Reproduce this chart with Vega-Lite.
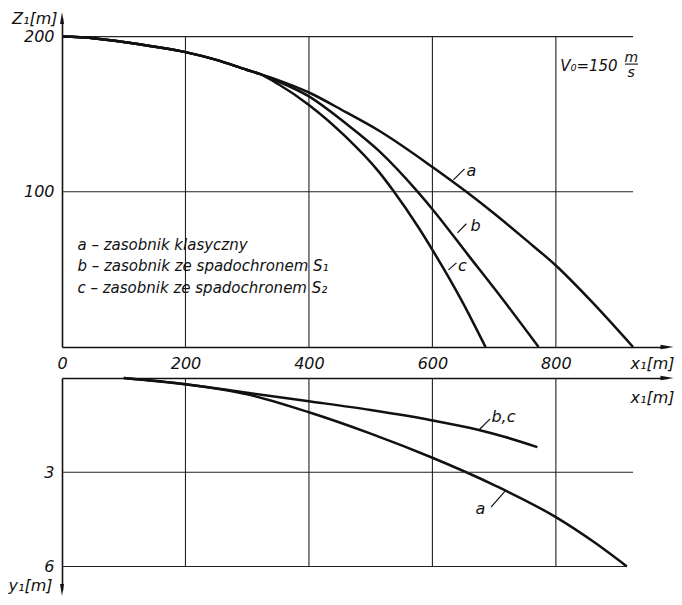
{
  "$schema": "https://vega.github.io/schema/vega-lite/v6.json",
  "padding": {"left": 8, "top": 10, "right": 4, "bottom": 4},
  "spacing": 2,
  "config": {
    "view": {"stroke": null},
    "font": "DejaVu Sans",
    "axis": {
      "grid": false,
      "ticks": false,
      "domainColor": "#111",
      "domainWidth": 1.6,
      "labelColor": "#111",
      "labelFontSize": 16,
      "labelFontStyle": "italic",
      "labelFont": "DejaVu Sans",
      "labelPadding": 8,
      "labelFlush": false,
      "titleColor": "#111",
      "titleFontSize": 16,
      "titleFontStyle": "italic",
      "titleFontWeight": "normal",
      "titleFont": "DejaVu Sans"
    },
    "text": {"font": "DejaVu Sans", "fontStyle": "italic", "fontSize": 16, "color": "#111"}
  },
  "datasets": {
    "height": [
      {"s": "a", "x": 0, "z": 200}, {"s": "a", "x": 50, "z": 199}, {"s": "a", "x": 100, "z": 196.5},
      {"s": "a", "x": 150, "z": 193.5}, {"s": "a", "x": 200, "z": 190}, {"s": "a", "x": 250, "z": 185},
      {"s": "a", "x": 300, "z": 178.5}, {"s": "a", "x": 320, "z": 176}, {"s": "a", "x": 350, "z": 172},
      {"s": "a", "x": 400, "z": 164}, {"s": "a", "x": 459, "z": 151.5}, {"s": "a", "x": 513, "z": 139.5},
      {"s": "a", "x": 600, "z": 116}, {"s": "a", "x": 655, "z": 100},
      {"s": "a", "x": 700, "z": 86}, {"s": "a", "x": 750, "z": 69.5}, {"s": "a", "x": 800, "z": 52.5},
      {"s": "a", "x": 855, "z": 30.5}, {"s": "a", "x": 925, "z": 0},
      {"s": "b", "x": 0, "z": 200}, {"s": "b", "x": 50, "z": 199}, {"s": "b", "x": 100, "z": 196.5},
      {"s": "b", "x": 150, "z": 193.5}, {"s": "b", "x": 200, "z": 190}, {"s": "b", "x": 250, "z": 185},
      {"s": "b", "x": 300, "z": 178.5}, {"s": "b", "x": 320, "z": 176}, {"s": "b", "x": 350, "z": 171.2},
      {"s": "b", "x": 400, "z": 161.5}, {"s": "b", "x": 459, "z": 144.3}, {"s": "b", "x": 513, "z": 126.5},
      {"s": "b", "x": 577, "z": 99.6}, {"s": "b", "x": 600, "z": 88.8}, {"s": "b", "x": 658, "z": 59.2},
      {"s": "b", "x": 712, "z": 31.7}, {"s": "b", "x": 772, "z": 0},
      {"s": "c", "x": 0, "z": 200}, {"s": "c", "x": 50, "z": 199}, {"s": "c", "x": 100, "z": 196.5},
      {"s": "c", "x": 150, "z": 193.5}, {"s": "c", "x": 200, "z": 190}, {"s": "c", "x": 250, "z": 185},
      {"s": "c", "x": 300, "z": 178.5}, {"s": "c", "x": 320, "z": 176}, {"s": "c", "x": 350, "z": 169.5},
      {"s": "c", "x": 400, "z": 156}, {"s": "c", "x": 459, "z": 135.7}, {"s": "c", "x": 513, "z": 113},
      {"s": "c", "x": 537, "z": 100.5}, {"s": "c", "x": 577, "z": 77.3}, {"s": "c", "x": 600, "z": 62.6},
      {"s": "c", "x": 647, "z": 30.2}, {"s": "c", "x": 686, "z": 0}
    ],
    "drift": [
      {"s": "a", "x": 100, "y": 0}, {"s": "a", "x": 200, "y": 0.2}, {"s": "a", "x": 300, "y": 0.52},
      {"s": "a", "x": 400, "y": 1.09}, {"s": "a", "x": 500, "y": 1.77},
      {"s": "a", "x": 600, "y": 2.54}, {"s": "a", "x": 700, "y": 3.41},
      {"s": "a", "x": 800, "y": 4.43}, {"s": "a", "x": 860, "y": 5.2}, {"s": "a", "x": 915, "y": 6.0},
      {"s": "b,c", "x": 100, "y": 0}, {"s": "b,c", "x": 200, "y": 0.2}, {"s": "b,c", "x": 300, "y": 0.47},
      {"s": "b,c", "x": 400, "y": 0.74}, {"s": "b,c", "x": 500, "y": 1.02},
      {"s": "b,c", "x": 600, "y": 1.35}, {"s": "b,c", "x": 672, "y": 1.64}, {"s": "b,c", "x": 718, "y": 1.88},
      {"s": "b,c", "x": 770, "y": 2.2}
    ],
    "xgrid": [{"v": 200}, {"v": 400}, {"v": 600}, {"v": 800}],
    "zgrid": [{"v": 100}, {"v": 200}]
  },
  "vconcat": [
    {
      "width": 605,
      "height": 329,
      "encoding": {
        "x": {"type": "quantitative", "scale": {"domain": [0, 980], "nice": false, "zero": false}},
        "y": {"type": "quantitative", "scale": {"domain": [0, 212], "nice": false, "zero": false}}
      },
      "layer": [
        {
          "data": {"name": "xgrid"},
          "mark": {"type": "rule", "color": "#222", "strokeWidth": 1.1},
          "encoding": {
            "x": {"field": "v", "type": "quantitative"},
            "y": {"datum": 0},
            "y2": {"datum": 200}
          }
        },
        {
          "data": {"name": "zgrid"},
          "mark": {"type": "rule", "color": "#222", "strokeWidth": 1.1},
          "encoding": {
            "y": {"field": "v", "type": "quantitative"},
            "x": {"datum": 0},
            "x2": {"datum": 925}
          }
        },
        {
          "data": {"name": "height"},
          "mark": {"type": "line", "color": "#111", "strokeWidth": 2.5, "interpolate": "monotone"},
          "encoding": {
            "x": {
              "field": "x", "type": "quantitative",
              "axis": {
                "values": [0, 200, 400, 600, 800],
                "title": "x₁[m]",
                "titleX": 612, "titleY": 21,
                "titleAlign": "right", "titleBaseline": "alphabetic"
              }
            },
            "y": {
              "field": "z", "type": "quantitative",
              "axis": {
                "values": [100, 200],
                "title": "Z₁[m]",
                "titleAngle": 0, "titleX": -5, "titleY": 0,
                "titleAlign": "right", "titleBaseline": "middle"
              }
            },
            "detail": {"field": "s"}
          }
        },
        {
          "data": {"values": [{}]},
          "layer": [
            {
              "mark": {"type": "text", "text": "a – zasobnik klasyczny", "align": "left", "baseline": "middle", "fontSize": 15},
              "encoding": {"x": {"datum": 25}, "y": {"datum": 66}}
            },
            {
              "mark": {"type": "text", "text": "b – zasobnik ze spadochronem S₁", "align": "left", "baseline": "middle", "fontSize": 15},
              "encoding": {"x": {"datum": 25}, "y": {"datum": 52}}
            },
            {
              "mark": {"type": "text", "text": "c – zasobnik ze spadochronem S₂", "align": "left", "baseline": "middle", "fontSize": 15},
              "encoding": {"x": {"datum": 25}, "y": {"datum": 38}}
            },
            {
              "mark": {"type": "rule", "color": "#111", "strokeWidth": 1.2},
              "encoding": {"x": {"datum": 634}, "y": {"datum": 107.7}, "x2": {"datum": 652}, "y2": {"datum": 114.8}}
            },
            {
              "mark": {"type": "text", "text": "a"},
              "encoding": {"x": {"datum": 663}, "y": {"datum": 113.5}}
            },
            {
              "mark": {"type": "rule", "color": "#111", "strokeWidth": 1.2},
              "encoding": {"x": {"datum": 640.5}, "y": {"datum": 73.5}, "x2": {"datum": 655}, "y2": {"datum": 79.4}}
            },
            {
              "mark": {"type": "text", "text": "b"},
              "encoding": {"x": {"datum": 670}, "y": {"datum": 78}}
            },
            {
              "mark": {"type": "rule", "color": "#111", "strokeWidth": 1.2},
              "encoding": {"x": {"datum": 626}, "y": {"datum": 49.7}, "x2": {"datum": 639}, "y2": {"datum": 54.2}}
            },
            {
              "mark": {"type": "text", "text": "c"},
              "encoding": {"x": {"datum": 648.6}, "y": {"datum": 52.3}}
            },
            {
              "mark": {"type": "text", "text": "V₀=150", "align": "right", "fontSize": 15},
              "encoding": {"x": {"datum": 900}, "y": {"datum": 181.3}}
            },
            {
              "mark": {"type": "text", "text": "m", "fontSize": 14, "baseline": "alphabetic"},
              "encoding": {"x": {"datum": 922}, "y": {"datum": 183.8}}
            },
            {
              "mark": {"type": "rule", "color": "#111", "strokeWidth": 1.1},
              "encoding": {"x": {"datum": 912}, "x2": {"datum": 933}, "y": {"datum": 182.3}}
            },
            {
              "mark": {"type": "text", "text": "s", "fontSize": 14, "baseline": "top"},
              "encoding": {"x": {"datum": 922}, "y": {"datum": 181}}
            },
            {
              "mark": {"type": "point", "shape": "M-1,-0.33L1,0L-1,0.33Z", "filled": true, "color": "#111", "opacity": 1, "size": 169},
              "encoding": {"x": {"datum": 980}, "y": {"datum": 0}}
            },
            {
              "mark": {"type": "point", "shape": "M-0.33,1L0,-1L0.33,1Z", "filled": true, "color": "#111", "opacity": 1, "size": 144},
              "encoding": {"x": {"datum": 0}, "y": {"datum": 212}}
            }
          ]
        }
      ]
    },
    {
      "width": 605,
      "height": 212,
      "encoding": {
        "x": {"type": "quantitative", "scale": {"domain": [0, 980], "nice": false, "zero": false}},
        "y": {"type": "quantitative", "scale": {"domain": [0, 6.75], "nice": false, "zero": false, "reverse": true}}
      },
      "layer": [
        {
          "data": {"name": "xgrid"},
          "mark": {"type": "rule", "color": "#222", "strokeWidth": 1.1},
          "encoding": {
            "x": {"field": "v", "type": "quantitative"},
            "y": {"datum": 0},
            "y2": {"datum": 6}
          }
        },
        {
          "data": {"name": "drift"},
          "mark": {"type": "line", "color": "#111", "strokeWidth": 2.5, "interpolate": "monotone"},
          "encoding": {
            "x": {
              "field": "x", "type": "quantitative",
              "axis": {
                "orient": "top", "labels": false, "values": [],
                "title": "x₁[m]",
                "titleX": 612, "titleY": 24,
                "titleAlign": "right", "titleBaseline": "alphabetic"
              }
            },
            "y": {
              "field": "y", "type": "quantitative",
              "axis": {
                "values": [3, 6],
                "title": "y₁[m]",
                "titleAngle": 0, "titleX": -10, "titleY": 207,
                "titleAlign": "right", "titleBaseline": "middle"
              }
            },
            "detail": {"field": "s"}
          }
        },
        {
          "data": {"values": [{}]},
          "layer": [
            {
              "mark": {"type": "rule", "color": "#222", "strokeWidth": 1.1},
              "encoding": {"x": {"datum": 0}, "x2": {"datum": 925}, "y": {"datum": 3}}
            },
            {
              "mark": {"type": "rule", "color": "#222", "strokeWidth": 1.1},
              "encoding": {"x": {"datum": 0}, "x2": {"datum": 915}, "y": {"datum": 6}}
            },
            {
              "mark": {"type": "rule", "color": "#111", "strokeWidth": 1.2},
              "encoding": {"x": {"datum": 674.5}, "y": {"datum": 1.67}, "x2": {"datum": 693.4}, "y2": {"datum": 1.3}}
            },
            {
              "mark": {"type": "text", "text": "b,c"},
              "encoding": {"x": {"datum": 715}, "y": {"datum": 1.256}}
            },
            {
              "mark": {"type": "rule", "color": "#111", "strokeWidth": 1.2},
              "encoding": {"x": {"datum": 695}, "y": {"datum": 4.11}, "x2": {"datum": 717.7}, "y2": {"datum": 3.6}}
            },
            {
              "mark": {"type": "text", "text": "a"},
              "encoding": {"x": {"datum": 677.7}, "y": {"datum": 4.18}}
            },
            {
              "mark": {"type": "point", "shape": "M-1,-0.33L1,0L-1,0.33Z", "filled": true, "color": "#111", "opacity": 1, "size": 169},
              "encoding": {"x": {"datum": 980}, "y": {"datum": 0}}
            },
            {
              "mark": {"type": "point", "shape": "M-0.33,-1L0,1L0.33,-1Z", "filled": true, "color": "#111", "opacity": 1, "size": 144},
              "encoding": {"x": {"datum": 0}, "y": {"datum": 6.75}}
            }
          ]
        }
      ]
    }
  ]
}
